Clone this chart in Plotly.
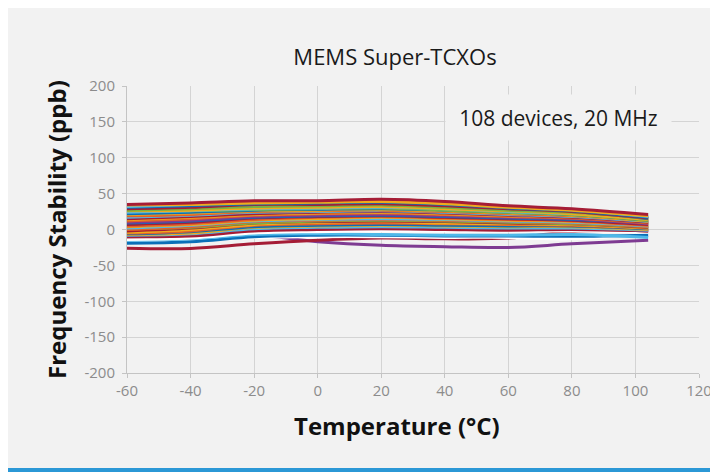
import plotly.graph_objects as go

# Temperature sample points (°C)
temps = [-60, -40, -20, 0, 20, 40, 60, 80, 104]

# Frequency stability (ppb) of individual devices
d01 = [35, 37, 40, 40, 42, 39, 33, 29, 21]
d02 = [34, 35, 37, 38, 39, 36, 31, 27, 19]
d03 = [32, 35, 39, 39, 40, 37, 32, 28, 18]
d04 = [31, 33, 36, 37, 38, 35, 30, 26, 17]
d05 = [29, 31, 35, 35, 36, 33, 29, 25, 16]
d06 = [27, 29, 32, 33, 34, 31, 27, 24, 16]
d07 = [30, 31, 33, 34, 35, 32, 28, 25, 15]
d08 = [26, 27, 30, 31, 32, 29, 26, 22, 14]
d09 = [24, 26, 29, 30, 31, 29, 25, 22, 15]
d10 = [25, 26, 28, 29, 30, 27, 24, 21, 13]
d11 = [22, 24, 27, 28, 29, 27, 24, 21, 13]
d12 = [21, 23, 26, 27, 28, 26, 23, 20, 12]
d13 = [19, 21, 25, 26, 27, 25, 22, 19, 12]
d14 = [17, 20, 24, 25, 26, 24, 21, 18, 11]
d15 = [15, 18, 22, 24, 25, 23, 20, 17, 10]
d16 = [14, 17, 21, 23, 24, 22, 19, 17, 10]
d17 = [12, 15, 20, 22, 23, 21, 18, 16, 9]
d18 = [10, 13, 18, 20, 21, 19, 17, 15, 8]
d19 = [9, 12, 17, 19, 20, 18, 16, 14, 9]
d20 = [7, 10, 16, 18, 19, 17, 15, 13, 7]
d21 = [5, 8, 14, 17, 18, 16, 14, 12, 6]
d22 = [4, 7, 13, 15, 17, 15, 13, 11, 6]
d23 = [2, 6, 12, 14, 15, 14, 12, 10, 5]
d24 = [0, 4, 11, 13, 14, 13, 11, 9, 4]
d25 = [1, 3, 9, 12, 13, 12, 10, 8, 4]
d26 = [-2, 2, 9, 11, 12, 11, 9, 8, 3]
d27 = [-4, 0, 7, 10, 11, 9, 8, 7, 2]
d28 = [-5, -2, 6, 8, 9, 8, 7, 6, 2]
d29 = [-6, -3, 4, 6, 7, 6, 5, 5, 1]
d30 = [-7, -5, 3, 5, 6, 5, 4, 4, 0]
d31 = [-8, -6, 1, 3, 4, 3, 2, 2, -1]
d32 = [-10, -8, 0, 2, 3, 2, 1, 1, -2]
d33 = [-10, -9, -2, 0, 1, 0, -1, 0, -2]
d34 = [-14, -12, -5, -3, -2, -2, -2, -2, -3]
d35 = [-15, -13, -7, -6, -7, -8, -8, -7, -11]
d36 = [-19, -17, -10, -8, -8, -9, -9, -9.5, -8]
d37 = [-17, -16, -11, -10, -10, -11, -11, -13, -6]
d38 = [-16, -12, -8, -17, -22, -24, -25, -20, -15]
d39 = [-26, -26.5, -20, -15, -12, -13, -12, -3, -1]

devices = [d38, d39, d37, d36, d35, d34, d33, d32, d31, d30, d29, d28, d27,
           d26, d25, d24, d23, d22, d21, d20, d19, d18, d17, d16, d15, d14,
           d13, d12, d11, d10, d09, d08, d07, d06, d05, d04, d03, d02, d01]

RED, LBLUE, BLUE, GREEN = "#A51D36", "#4FB8E8", "#0A6FB8", "#79B142"
GOLD, ORANGE, PURPLE, WHITE = "#EFAA1C", "#E0602A", "#7E3B92", "#FFFFFF"

device_colors = [PURPLE, RED, WHITE, BLUE, LBLUE, WHITE, RED, RED, LBLUE,
                 GOLD, BLUE, ORANGE, GOLD, RED, GREEN, ORANGE, LBLUE, GOLD,
                 ORANGE, RED, BLUE, PURPLE, ORANGE, GOLD, RED, LBLUE, ORANGE,
                 GOLD, BLUE, GREEN, LBLUE, GOLD, BLUE, GREEN, RED, BLUE,
                 LBLUE, GOLD, RED]

x_ticks = [-60, -40, -20, 0, 20, 40, 60, 80, 100, 120]
x_tick_labels = ["-60", "-40", "-20", "0", "20", "40", "60", "80", "100", "120"]
y_ticks = [-200, -150, -100, -50, 0, 50, 100, 150, 200]
y_tick_labels = ["-200", "-150", "-100", "-50", "0", "50", "100", "150", "200"]

fig = go.Figure()
for vals, col in zip(devices, device_colors):
    fig.add_trace(go.Scatter(
        x=temps, y=vals, mode="lines",
        line=dict(color=col, width=3, shape="spline", smoothing=1.0),
        showlegend=False, hoverinfo="skip"))

tickfont = dict(family="Open Sans", size=15, color="#8c8c8c")
axis_common = dict(showgrid=True, gridcolor="#d4d4d4", gridwidth=1,
                   zeroline=False, showline=True, linecolor="#c4c4c4",
                   linewidth=1, ticks="outside", ticklen=4,
                   tickcolor="#c4c4c4", tickfont=tickfont)

# page coords -> the page has an 8px body margin around the figure
OFF = 8

fig.update_layout(
    width=718, height=472, autosize=False,
    margin=dict(l=119, r=27, t=78, b=107),
    paper_bgcolor="#f2f2f2", plot_bgcolor="#f2f2f2",
    font=dict(family="Open Sans"),
    title=dict(text="MEMS Super-TCXOs", xref="container", yref="container",
               x=(395 - OFF) / 718, y=1 - (57 - OFF) / 472,
               xanchor="center", yanchor="middle",
               font=dict(family="Open Sans", size=22, color="#1a1a1a")),
    xaxis=dict(range=[-60, 120], tickvals=x_ticks, ticktext=x_tick_labels,
               **axis_common),
    yaxis=dict(range=[-200, 200], tickvals=y_ticks, ticktext=y_tick_labels,
               ticklabelstandoff=4, **axis_common),
)

fig.add_annotation(text="108 devices, 20 MHz", x=75.8, y=155.5,
                   xref="x", yref="y", showarrow=False, width=225, height=45,
                   bgcolor="#f2f2f2", borderpad=0, xanchor="center",
                   yanchor="middle",
                   font=dict(family="Open Sans", size=21, color="#1a1a1a"))

fig.add_annotation(text="<b>Temperature (°C)</b>", xref="paper", yref="paper",
                   x=(397 - 127) / 572, y=(373 - 425) / 287, showarrow=False,
                   xanchor="center", yanchor="middle",
                   font=dict(family="Open Sans", size=24, color="#111111"))

fig.add_annotation(text="<b>Frequency Stability (ppb)</b>", xref="paper",
                   yref="paper", x=(56 - 127) / 572, y=(373 - 230) / 287,
                   showarrow=False, textangle=-90, xanchor="center",
                   yanchor="middle",
                   font=dict(family="Open Sans", size=24, color="#111111"))

# blue bar along the bottom edge
fig.add_shape(type="rect", xref="paper", yref="paper", x0=-0.3, x1=1.1,
              y0=(373 - 468) / 287, y1=-0.4, fillcolor="#2B98D6",
              line_width=0, layer="above")

fig.write_html("out.html")
